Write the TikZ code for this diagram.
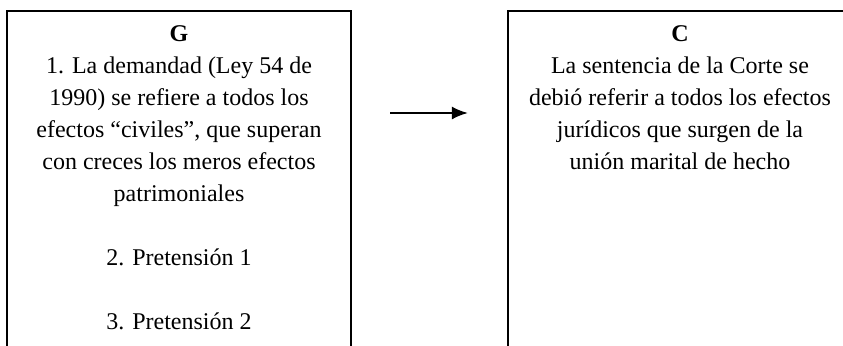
\documentclass[tikz,border=0pt]{standalone}
\usepackage{fontspec}
\setmainfont{Liberation Serif}
\usetikzlibrary{arrows.meta}

\tikzset{
  casebox/.style={draw, line width=1.1pt, minimum width=172pt, minimum height=200pt, anchor=north, inner sep=0pt},
  boxtext/.style={anchor=north, align=center, font=\fontsize{12}{16}\selectfont, inner sep=0pt},
}

\begin{document}
\begin{tikzpicture}
    \useasboundingbox (0,0) rectangle (421.5pt,172.5pt);
    \clip (0,0) rectangle (421.5pt,172.5pt);

    \node[casebox] (gbox) at (89.5pt,167.5pt) {};
    \node[casebox] (cbox) at (340pt,167.5pt) {};

    \node[boxtext] (gtext) at ([yshift=-7.5pt]gbox.north) {\textbf{G}\\
      1. La demandad (Ley 54 de\\
      1990) se refiere a todos los\\
      efectos “civiles”, que superan\\
      con creces los meros efectos\\
      patrimoniales\\[16pt]
      2. Pretensión 1\\[16pt]
      3. Pretensión 2};
    \node[boxtext] (ctext) at ([yshift=-7.5pt]cbox.north) {\textbf{C}\\
      La sentencia de la Corte se\\
      debió referir a todos los efectos\\
      jurídicos que surgen de la\\
      unión marital de hecho};

    \draw[line width=1pt, -{Latex[length=8pt,width=6.5pt]}, shorten <=19pt, shorten >=19.5pt]
      ([yshift=-51.5pt]gbox.north east) -- ([yshift=-51.5pt]cbox.north west);
\end{tikzpicture}
\end{document}
